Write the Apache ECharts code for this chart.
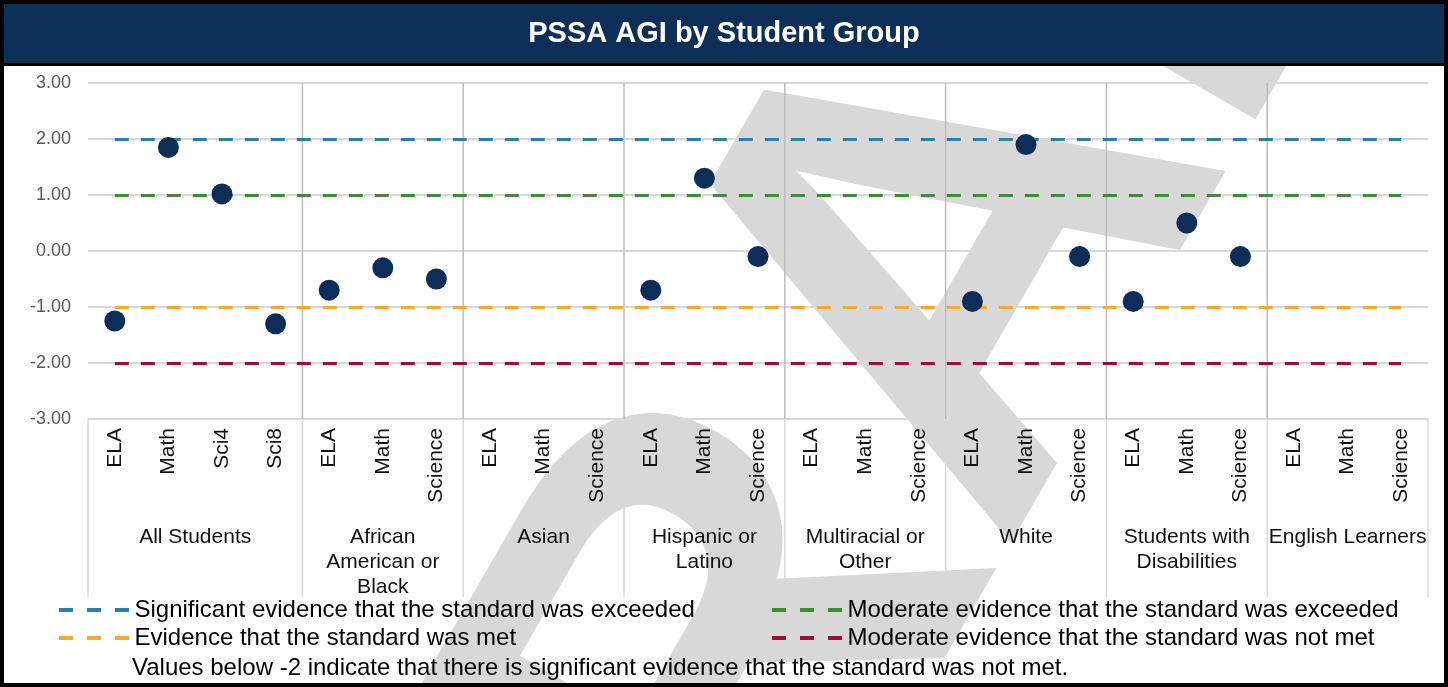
<!DOCTYPE html>
<html>
<head>
<meta charset="utf-8">
<title>PSSA AGI by Student Group</title>
<script src="https://cdn.jsdelivr.net/npm/echarts@6/dist/echarts.min.js"></script>
<style>
  html, body { margin: 0; padding: 0; background: #fff; }
  #chart { width: 1448px; height: 687px; }
</style>
</head>
<body>
<div id="chart"></div>
<script>
// categories along the x axis (subjects), grouped by student group
const categories = [
  'ELA', 'Math', 'Sci4', 'Sci8',
  'ELA', 'Math', 'Science',
  'ELA', 'Math', 'Science',
  'ELA', 'Math', 'Science',
  'ELA', 'Math', 'Science',
  'ELA', 'Math', 'Science',
  'ELA', 'Math', 'Science',
  'ELA', 'Math', 'Science'
];
const groups = [
  'All Students',
  'African\nAmerican or\nBlack',
  'Asian',
  'Hispanic or\nLatino',
  'Multiracial or\nOther',
  'White',
  'Students with\nDisabilities',
  'English Learners'
];
const groupSizes = [4, 3, 3, 3, 3, 3, 3, 3];

// AGI values (null = no data)
const agi = [
  -1.25, 1.85, 1.02, -1.3,
  -0.7, -0.3, -0.5,
  null, null, null,
  -0.7, 1.3, -0.1,
  null, null, null,
  -0.9, 1.9, -0.1,
  -0.9, 0.5, -0.1,
  null, null, null
];

// reference lines
const refNames = [
  'Significant evidence that the standard was exceeded',
  'Moderate evidence that the standard was exceeded',
  'Evidence that the standard was met',
  'Moderate evidence that the standard was not met'
];
const refValues = [2, 1, -1, -2];
const refColors = ['#2a80a8', '#3b8e34', '#fea72b', '#a10d36'];

const yTicks = [-3, 3, 1];   // min, max, interval
const footNote = 'Values below -2 indicate that there is significant evidence that the standard was not met.';

const FONT = 'Liberation Sans, Arial, sans-serif';
const NAVY = '#0c2f58';
const dashIcon = 'path://M0,0h14v4h-14z M28,0h14v4h-14z M56,0h14v4h-14z';

const chart = echarts.init(document.getElementById('chart'));

const refSeries = refNames.map(function (name, i) {
  return {
    name: name,
    type: 'line',
    data: [],
    color: refColors[i],
    markLine: {
      silent: true,
      symbol: ['none', 'none'],
      label: { show: false },
      lineStyle: { color: refColors[i], width: 3, type: [14, 12] },
      data: [[{ coord: [0, refValues[i]] }, { coord: [categories.length - 1, refValues[i]] }]]
    }
  };
});

function legendBox(left, names) {
  return {
    orient: 'vertical',
    left: left,
    top: 596,
    padding: 0,
    itemWidth: 71,
    itemHeight: 4,
    itemGap: 0,
    icon: dashIcon,
    textStyle: { fontSize: 24, color: '#000', lineHeight: 28 },
    data: names
  };
}

let option = {
  animation: false,
  textStyle: { fontFamily: FONT },
  grid: { left: 88, right: 20, top: 83, bottom: 268, containLabel: false },
  legend: [
    legendBox(59, [refNames[0], refNames[2]]),
    legendBox(772, [refNames[1], refNames[3]])
  ],
  xAxis: {
    type: 'category',
    data: categories,
    axisLine: { show: false },
    axisTick: { show: false },
    splitLine: { show: false },
    axisLabel: { rotate: 90, interval: 0, fontSize: 21, color: '#111', margin: 9 }
  },
  yAxis: {
    type: 'value',
    min: yTicks[0],
    max: yTicks[1],
    interval: yTicks[2],
    axisLine: { show: false },
    axisTick: { show: false },
    splitLine: { lineStyle: { color: '#d9d9d9', width: 2 } },
    axisLabel: {
      fontSize: 18,
      color: '#595959',
      margin: 17,
      formatter: function (v) { return v.toFixed(2); }
    }
  },
  series: refSeries.concat([
    {
      name: 'AGI',
      type: 'scatter',
      data: agi,
      symbolSize: 21,
      z: 10,
      itemStyle: { color: '#0c2d57', opacity: 1 }
    }
  ])
};

chart.setOption(option);

// separators and group labels placed from the category axis positions
const centers = categories.map(function (c, i) {
  return chart.convertToPixel({ xAxisIndex: 0 }, i);
});
const step = centers[1] - centers[0];
const yTop = chart.convertToPixel({ yAxisIndex: 0 }, yTicks[1]);
const yBottom = chart.convertToPixel({ yAxisIndex: 0 }, yTicks[0]);

const graphics = [];

// watermark
graphics.push({
  type: 'text',
  x: 930,
  y: 330,
  rotation: Math.PI / 3,
  z: -10,
  silent: true,
  style: {
    text: 'DRAFT',
    x: 0,
    y: 0,
    align: 'center',
    verticalAlign: 'middle',
    font: 'bold 640px ' + FONT,
    fill: '#d8d8d8'
  }
});

let start = 0;
groupSizes.forEach(function (size, g) {
  const left = centers[start] - step / 2;
  const right = centers[start + size - 1] + step / 2;
  if (g > 0) {
    graphics.push({
      type: 'line', silent: true, z: 1,
      shape: { x1: left, y1: yTop, x2: left, y2: yBottom },
      style: { stroke: '#bcbcbc', lineWidth: 1.5 }
    });
  }
  graphics.push({
    type: 'line', silent: true, z: 1,
    shape: { x1: left, y1: yBottom, x2: left, y2: 597 },
    style: { stroke: '#d9d9d9', lineWidth: 1.5 }
  });
  if (g === groupSizes.length - 1) {
    graphics.push({
      type: 'line', silent: true, z: 1,
      shape: { x1: right, y1: yBottom, x2: right, y2: 597 },
      style: { stroke: '#d9d9d9', lineWidth: 1.5 }
    });
  }
  graphics.push({
    type: 'text', silent: true, z: 1,
    style: {
      text: groups[g],
      x: (left + right) / 2,
      y: 525,
      align: 'center',
      verticalAlign: 'top',
      font: '21px ' + FONT,
      lineHeight: 25,
      fill: '#111'
    }
  });
  start += size;
});

// title bar
graphics.push({
  type: 'rect', silent: true, z: 5,
  shape: { x: 0, y: 0, width: 1448, height: 64 },
  style: { fill: NAVY }
});
graphics.push({
  type: 'line', silent: true, z: 6,
  shape: { x1: 0, y1: 64.5, x2: 1448, y2: 64.5 },
  style: { stroke: '#000', lineWidth: 3 }
});
graphics.push({
  type: 'text', silent: true, z: 6,
  style: {
    text: 'PSSA AGI by Student Group',
    x: 724,
    y: 34,
    align: 'center',
    verticalAlign: 'middle',
    font: 'bold 29px ' + FONT,
    fill: '#fff'
  }
});

// footnote
graphics.push({
  type: 'text', silent: true, z: 6,
  style: {
    text: footNote,
    x: 132,
    y: 668,
    align: 'left',
    verticalAlign: 'middle',
    font: '24px ' + FONT,
    fill: '#000'
  }
});

// outer border
graphics.push({
  type: 'rect', silent: true, z: 20,
  shape: { x: 2, y: 2, width: 1444, height: 683 },
  style: { fill: 'none', stroke: '#000', lineWidth: 4 }
});

chart.setOption({ graphic: graphics });
</script>
</body>
</html>
